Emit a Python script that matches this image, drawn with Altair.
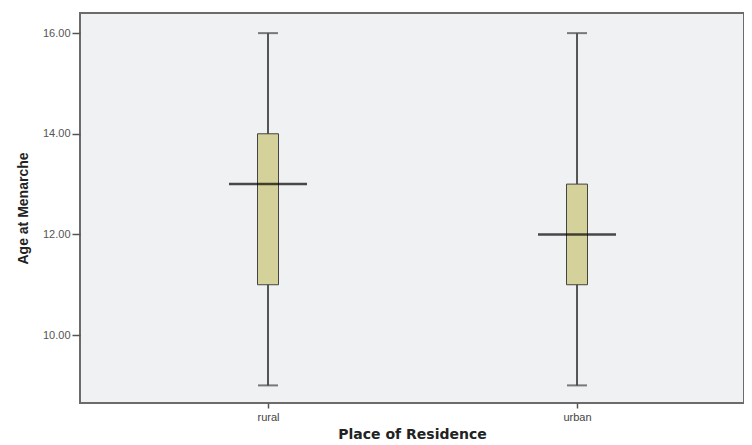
import altair as alt
import pandas as pd

# Data
places = ["rural", "urban"]
mins = [9, 9]
q1s = [11, 11]
medians = [13, 12]
q3s = [14, 13]
maxs = [16, 16]

df = pd.DataFrame({
    "place": places,
    "min": mins,
    "q1": q1s,
    "median": medians,
    "q3": q3s,
    "max": maxs,
})

FONT = "Liberation Sans"

x = alt.X(
    "place:N",
    scale=alt.Scale(type="point", padding=0.5744, align=0.5296),
    sort=places,
    axis=alt.Axis(
        title="Place of Residence",
        labelAngle=0,
        labelFont=FONT,
        labelFontSize=11,
        labelColor="#444",
        tickColor="#555",
        tickSize=5,
        tickWidth=1.5,
        domain=False,
        labelPadding=3,
        titleFont="DejaVu Sans",
        titleFontSize=14,
        titleFontWeight="bold",
        titleColor="#222",
        titlePadding=5,
    ),
)

yscale = alt.Scale(domain=[8.65, 16.4], nice=False, zero=False)
yaxis = alt.Axis(
    title="Age at Menarche",
    values=[10, 12, 14, 16],
    format=".2f",
    labelFont=FONT,
    labelFontSize=11,
    labelColor="#555",
    tickColor="#555",
    tickSize=8,
    tickWidth=1.5,
    domain=False,
    grid=False,
    labelPadding=2,
    titleFont=FONT,
    titleFontSize=14,
    titleFontWeight="bold",
    titleColor="#222",
    titlePadding=12,
)

base = alt.Chart(df)

whisker = base.mark_rule(color="#555555", strokeWidth=2).encode(
    x=x,
    y=alt.Y("min:Q", scale=yscale, axis=yaxis),
    y2="max:Q",
)

caps_top = base.mark_tick(color="#444444", size=20, thickness=2).encode(
    x=x, y=alt.Y("max:Q", scale=yscale)
)
caps_bot = base.mark_tick(color="#444444", size=20, thickness=2).encode(
    x=x, y=alt.Y("min:Q", scale=yscale)
)

box = base.mark_bar(
    size=21, color="#d5d19a", stroke="#444444", strokeWidth=1
).encode(
    x=x,
    y=alt.Y("q1:Q", scale=yscale),
    y2="q3:Q",
)

median = base.mark_tick(color="#000000", size=78, thickness=2.5).encode(
    x=x, y=alt.Y("median:Q", scale=yscale)
)

chart = (
    alt.layer(whisker, box, caps_top, caps_bot, median)
    .properties(
        width=664,
        height=390,
        autosize=alt.AutoSizeParams(type="none"),
        padding={"left": 72, "top": 5, "right": 0, "bottom": 42},
        background="white",
    )
    .configure_view(fill="#f0f1f3", stroke="#6b6b6b", strokeWidth=2)
)

chart.save("out.html", embed_options={"renderer": "svg", "actions": False})
